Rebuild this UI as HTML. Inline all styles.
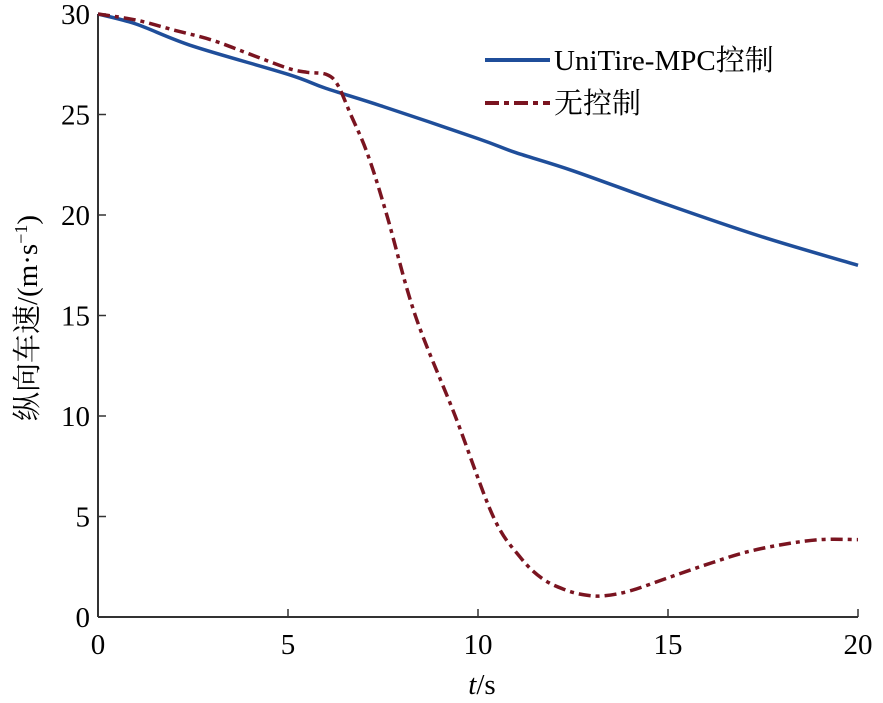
<!DOCTYPE html>
<html><head><meta charset="utf-8"><style>
body{margin:0;background:#fff;}
svg text{font-family:"Liberation Serif","Noto Serif CJK SC","Noto Sans CJK SC",serif;fill:#000;}
</style></head><body>
<svg id="chart" width="883" height="698">
<g id="axes"></g><g id="series"></g>
<g>
<line x1="485" y1="60" x2="550" y2="60" stroke="#1f4e9a" stroke-width="4"/>
<text x="554" y="70" font-size="29">UniTire-MPC控制</text>
<line x1="485" y1="103" x2="550" y2="103" stroke="#7a1420" stroke-width="4" stroke-dasharray="14,5,5,5"/>
<text x="554" y="113" font-size="29">无控制</text>
</g>
<text x="482" y="694" font-size="29" text-anchor="middle"><tspan font-style="italic">t</tspan>/s</text>
<text transform="translate(37,318) rotate(-90)" font-size="29" text-anchor="middle">纵向车速/(m·s<tspan baseline-shift="super" font-size="18">−1</tspan>)</text>
</svg>
<script>
const xTicks=[0,5,10,15,20];
const yTicks=[0,5,10,15,20,25,30];
const mpcT=[0,1,2.5,5,6,7.5,10,11,12.5,15,17.5,20];
const mpcV=[30,29.5,28.4,27.0,26.3,25.4,23.8,23.1,22.2,20.5,18.9,17.5];
const noneT=[0,1,2,3,4,5,5.5,6,6.3,6.65,7.1,7.6,8.35,9.4,10.4,11.1,11.7,12.3,12.8,13.3,14,15,16,17,18,19,20];
const noneV=[30,29.7,29.2,28.7,28.0,27.3,27.1,27.0,26.5,25,23,20,15,10,5,3.0,1.9,1.35,1.1,1.05,1.3,1.95,2.6,3.2,3.6,3.85,3.85];
const X0=98,X1=858,Y0=617,Y1=14;
const sx=t=>X0+(X1-X0)*t/20, sy=v=>Y0-(Y0-Y1)*v/30;
const NS="http://www.w3.org/2000/svg";
const ax=document.getElementById('axes'), se=document.getElementById('series');
function mk(tag,attrs,parent){const e=document.createElementNS(NS,tag);for(const k in attrs)e.setAttribute(k,attrs[k]);parent.appendChild(e);return e;}
let l=mk('line',{x1:X0,y1:Y1,x2:X0,y2:Y0,stroke:'#333','stroke-width':2},ax);


l=mk('line',{x1:X0,y1:Y0,x2:X1,y2:Y0,stroke:'#333','stroke-width':2},ax);


xTicks.forEach(t=>{
 const tk=mk('line',{x1:sx(t),y1:Y0,x2:sx(t),y2:Y0-8,stroke:'#333','stroke-width':1.5},ax);
 
 
 const tx=mk('text',{x:sx(t),y:Y0+37,'font-size':29,'text-anchor':'middle'},ax);tx.textContent=t;
 
 
});
yTicks.forEach(v=>{
 const tk=mk('line',{x1:X0,y1:sy(v),x2:X0+8,y2:sy(v),stroke:'#333','stroke-width':1.5},ax);
 
 
 const tx=mk('text',{x:X0-8,y:sy(v)+10,'font-size':29,'text-anchor':'end'},ax);tx.textContent=v;
 
 
});
function smooth(T,V){
 const P=T.map((t,i)=>[sx(t),sy(V[i])]);
 let d='M'+P[0][0].toFixed(1)+','+P[0][1].toFixed(1);
 for(let i=0;i<P.length-1;i++){
  const p0=P[i-1]||P[i],p1=P[i],p2=P[i+1],p3=P[i+2]||p2;
  const c1=[p1[0]+(p2[0]-p0[0])/6,p1[1]+(p2[1]-p0[1])/6];
  const c2=[p2[0]-(p3[0]-p1[0])/6,p2[1]-(p3[1]-p1[1])/6];
  d+='C'+c1.map(n=>n.toFixed(1))+' '+c2.map(n=>n.toFixed(1))+' '+p2.map(n=>n.toFixed(1));
 }
 return d;
}
let p=mk('path',{d:smooth(mpcT,mpcV),fill:'none',stroke:'#1f4e9a','stroke-width':3.5,'stroke-linejoin':'round'},se);


p=mk('path',{d:smooth(noneT,noneV),fill:'none',stroke:'#7a1420','stroke-width':3.5,'stroke-dasharray':'12,5,4,5'},se);


</script>
</body></html>
